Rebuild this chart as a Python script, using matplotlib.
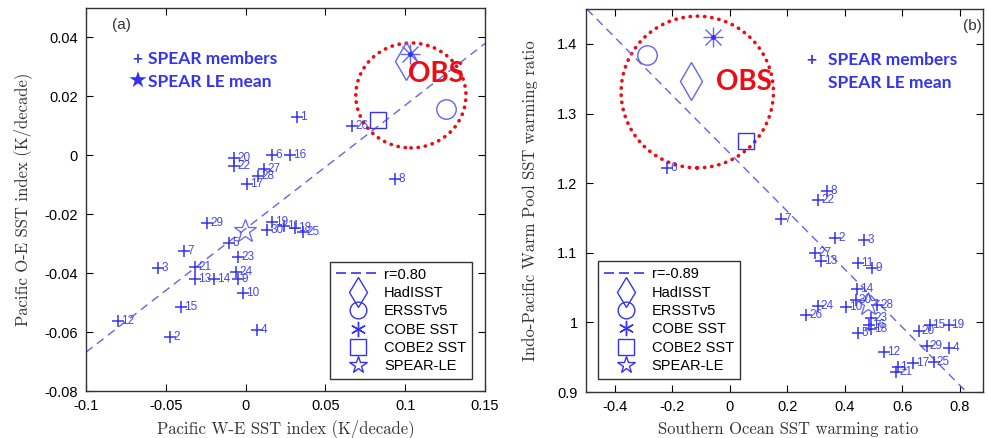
import matplotlib
matplotlib.use('Agg')
import matplotlib.pyplot as plt
import numpy as np
from matplotlib.patches import Ellipse
from matplotlib.lines import Line2D

# ensemble member values, panel (a): Pacific W-E vs O-E SST index (K/decade)
member_ids = list(range(1, 31))
a_x = [0.032, -0.0474, -0.0549, 0.0072, -0.0104, 0.0165, -0.0386, 0.0936, -0.0047, -0.0016,
       0.024, -0.080, -0.0317, -0.0198, -0.0405, 0.0278, 0.0009, 0.031, 0.0165, -0.0073,
       -0.0317, -0.0073, -0.0047, -0.006, 0.036, 0.0667, 0.0115, 0.0078, -0.0242, 0.0134]
a_y = [0.0129, -0.0617, -0.0383, -0.0593, -0.0298, 0.0, -0.0325, -0.0081, -0.042, -0.0468,
       -0.024, -0.0563, -0.042, -0.042, -0.0515, 0.0, -0.0098, -0.0245, -0.0227, -0.001,
       -0.038, -0.0037, -0.0346, -0.0397, -0.0261, 0.0098, -0.0048, -0.0071, -0.023, -0.0254]

# panel (b): Southern Ocean vs Indo-Pacific warm pool warming ratio
b_x = [0.583, 0.367, 0.468, 0.763, 0.447, -0.217, 0.179, 0.339, 0.495, 0.405,
       0.447, 0.537, 0.318, 0.443, 0.694, 0.485, 0.638, 0.49, 0.76, 0.656,
       0.579, 0.308, 0.492, 0.305, 0.708, 0.266, 0.297, 0.513, 0.684, 0.437]
b_y = [0.936, 1.121, 1.118, 0.963, 0.985, 1.222, 1.149, 1.189, 1.078, 1.022,
       1.085, 0.957, 1.088, 1.048, 0.996, 0.996, 0.941, 0.99, 0.996, 0.987,
       0.929, 1.176, 1.006, 1.023, 0.943, 1.01, 1.1, 1.025, 0.966, 1.032]

# observations and ensemble mean
obs_names = ['HadISST', 'ERSSTv5', 'COBE SST', 'COBE2 SST', 'SPEAR-LE']
obs_a_x = [0.1005, 0.1256, 0.103, 0.083, -0.0006]
obs_a_y = [0.0319, 0.0156, 0.0342, 0.0119, -0.0258]
obs_b_x = [-0.134, -0.287, -0.057, 0.057, 0.479]
obs_b_y = [1.347, 1.384, 1.41, 1.261, 1.027]

# regression lines (slope, intercept) and correlations
fit_a = (0.419, -0.0249)
fit_b = (-0.417, 1.243)
r_a = 0.80
r_b = -0.89

BLUE = '#3434f0'
LBLUE = '#6464ec'
RED = '#ec0c14'

plt.rcParams['font.family'] = ['Liberation Sans', 'DejaVu Sans']
plt.rcParams['xtick.direction'] = 'in'
plt.rcParams['ytick.direction'] = 'in'

fig = plt.figure(figsize=(9.88, 4.38), dpi=100)
ax1 = fig.add_axes([0.087, 0.107, 0.404, 0.875])
ax2 = fig.add_axes([0.593, 0.105, 0.402, 0.874])


def draw_panel(ax, xs, ys, ox, oy, fit, r, label_dx):
    ax.axline((0, fit[1]), slope=fit[0], color=LBLUE, lw=1.0, dashes=(6, 4))
    ax.plot(xs, ys, ls='none', marker='+', ms=9, mew=1.1, color=BLUE)
    for i, (x, y) in enumerate(zip(xs, ys)):
        ax.text(x + label_dx, y, str(member_ids[i]), color=BLUE, fontsize=8.5,
                va='center', ha='left', alpha=0.9)
    # observations
    ax.plot(ox[0], oy[0], ls='none', marker='d', ms=19, mfc='none', mec=LBLUE, mew=1.0)
    ax.plot(ox[1], oy[1], ls='none', marker='o', ms=14, mfc='none', mec=LBLUE, mew=1.0)
    ax.plot(ox[2], oy[2], ls='none', marker='+', ms=15, mec=LBLUE, mew=1.0)
    ax.plot(ox[2], oy[2], ls='none', marker='x', ms=11, mec=LBLUE, mew=1.0)
    ax.plot(ox[2], oy[2], ls='none', marker='o', ms=2.5, color=BLUE)
    ax.plot(ox[3], oy[3], ls='none', marker='s', ms=12, mfc='none', mec=BLUE, mew=1.0)
    ax.plot(ox[4], oy[4], ls='none', marker='*', ms=17, mfc='none', mec=LBLUE, mew=0.9)

    handles = [Line2D([], [], color=BLUE, lw=1.2, dashes=(6, 3), label=f'r={r:.2f}'),
               Line2D([], [], ls='none', marker='d', ms=15, mfc='none', mec=BLUE, label=obs_names[0]),
               Line2D([], [], ls='none', marker='o', ms=12, mfc='none', mec=BLUE, label=obs_names[1]),
               Line2D([], [], ls='none', marker=(6, 2, 0), ms=11, mec=BLUE, label=obs_names[2]),
               Line2D([], [], ls='none', marker='s', ms=11, mfc='none', mec=BLUE, label=obs_names[3]),
               Line2D([], [], ls='none', marker='*', ms=13, mfc='none', mec=BLUE, label=obs_names[4])]
    for s in ax.spines.values():
        s.set_linewidth(1.0)
        s.set_color('#333333')
    ax.tick_params(top=True, right=True, length=5, width=0.8, labelsize=10.5, pad=6)
    return handles


legend_kw = dict(fontsize=10.5, handlelength=3.0, labelspacing=0.3, borderpad=0.4,
                 handletextpad=0.3, borderaxespad=0, fancybox=False,
                 edgecolor='#333333', framealpha=1)

h1 = draw_panel(ax1, a_x, a_y, obs_a_x, obs_a_y, fit_a, r_a, 0.002)
ax1.set_xlim(-0.1, 0.15)
ax1.set_ylim(-0.08, 0.05)
ax1.set_xticks([-0.1, -0.05, 0, 0.05, 0.1, 0.15])
ax1.set_xticklabels(['-0.1', '-0.05', '0', '0.05', '0.1', '0.15'])
ax1.set_yticks([-0.08, -0.06, -0.04, -0.02, 0, 0.02, 0.04])
ax1.set_yticklabels(['-0.08', '-0.06', '-0.04', '-0.02', '0', '0.02', '0.04'])
leg1 = ax1.legend(handles=h1, loc='lower right', bbox_to_anchor=(0.967, 0.031), **legend_kw)
leg1.get_frame().set_linewidth(1.0)

h2 = draw_panel(ax2, b_x, b_y, obs_b_x, obs_b_y, fit_b, r_b, 0.010)
ax2.set_xlim(-0.5, 0.88)
ax2.set_ylim(0.9, 1.45)
ax2.set_xticks([-0.4, -0.2, 0, 0.2, 0.4, 0.6, 0.8])
ax2.set_xticklabels(['-0.4', '-0.2', '0', '0.2', '0.4', '0.6', '0.8'])
ax2.set_yticks([0.9, 1.0, 1.1, 1.2, 1.3, 1.4])
ax2.set_yticklabels(['0.9', '1', '1.1', '1.2', '1.3', '1.4'])
leg2 = ax2.legend(handles=h2, loc='lower left', bbox_to_anchor=(0.03, 0.034), **legend_kw)
leg2.get_frame().set_linewidth(1.0)

# OBS circles
ax1.add_patch(Ellipse((0.1035, 0.0203), 0.069, 0.0356, fill=False, ec=RED, lw=2.6,
                      ls=(0, (0.1, 1.9)), capstyle='round'))
ax2.add_patch(Ellipse((-0.113, 1.331), 0.529, 0.218, fill=False, ec=RED, lw=2.6,
                      ls=(0, (0.1, 1.9)), capstyle='round'))
ax1.text(0.119, 0.0275, 'OBS', color=RED, fontsize=20, fontweight='bold', family='Lato',
         ha='center', va='center')
ax2.text(0.05, 1.345, 'OBS', color=RED, fontsize=20, fontweight='bold', family='Lato',
         ha='center', va='center')

# annotations
ax1.text(0.128, 0.867, '+', transform=ax1.transAxes, color=BLUE, fontsize=12.5,
         fontweight='bold', family=['Lato', 'DejaVu Sans'], va='center', ha='center')
ax1.text(0.155, 0.867, 'SPEAR members', transform=ax1.transAxes, color=BLUE, fontsize=12.5,
         fontweight='bold', family='Lato', va='center', ha='left')
ax1.text(0.128, 0.806, '\u2605', transform=ax1.transAxes, color=BLUE, fontsize=16,
         family='DejaVu Sans', va='center', ha='center')
ax1.text(0.155, 0.806, 'SPEAR LE mean', transform=ax1.transAxes, color=BLUE, fontsize=12.5,
         fontweight='bold', family='Lato', va='center', ha='left')
ax2.text(0.568, 0.867, '+', transform=ax2.transAxes, color=BLUE, fontsize=12.5,
         fontweight='bold', family='Lato', va='center', ha='center')
ax2.text(0.61, 0.867, 'SPEAR members', transform=ax2.transAxes, color=BLUE, fontsize=12.5,
         fontweight='bold', family='Lato', va='center', ha='left')
ax2.text(0.61, 0.806, 'SPEAR LE mean', transform=ax2.transAxes, color=BLUE, fontsize=12.5,
         fontweight='bold', family='Lato', va='center', ha='left')

ax1.text(0.09, 0.955, '(a)', transform=ax1.transAxes, fontsize=11, ha='center', va='center',
         color='#333333')
ax2.text(0.972, 0.955, '(b)', transform=ax2.transAxes, fontsize=11, ha='center', va='center',
         color='#333333')

# axis labels in a Computer Modern-like serif
for ax, xl, yl in [(ax1, 'Pacific W-E SST index (K/decade)', 'Pacific O-E SST index (K/decade)'),
                   (ax2, 'Southern Ocean SST warming ratio', 'Indo-Pacific Warm Pool SST warming ratio')]:
    ax.set_xlabel(xl, family='cmr10', fontsize=12, color='#333333')
    ax.set_ylabel(yl, family='cmr10', fontsize=12, color='#333333')
    ax.xaxis.label.set_va('center')
    ax.yaxis.label.set_va('center')
ax1.xaxis.set_label_coords(0.5, -0.097)
ax1.yaxis.set_label_coords(-0.16, 0.5)
ax2.xaxis.set_label_coords(0.51, -0.097)
ax2.yaxis.set_label_coords(-0.14, 0.5)

fig.savefig('out.png', dpi=100)
